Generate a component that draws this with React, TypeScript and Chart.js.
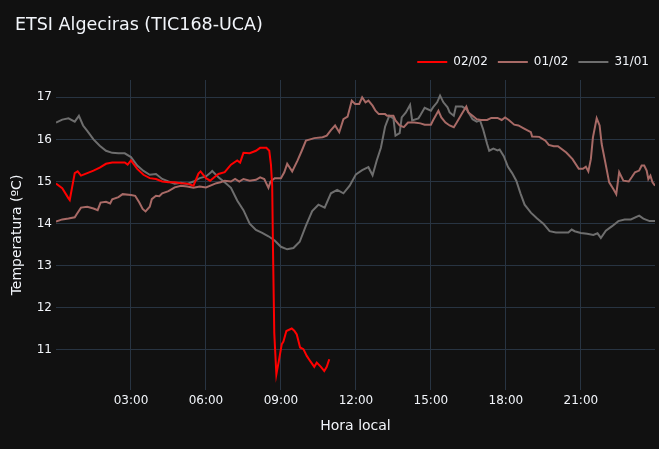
import { useEffect, useRef } from 'react';
import { Chart } from 'chart.js/auto';

// 02/02 (en curso)
const redTimes = [
  '00:00', '00:15', '00:30', '00:33', '00:45', '00:52', '01:00', '01:15', '01:30', '01:45',
  '02:00', '02:15', '02:30', '02:45', '02:52', '03:00', '03:15', '03:30', '03:45', '04:00',
  '04:15', '04:30', '04:45', '05:00', '05:15', '05:30', '05:42', '05:47', '06:00', '06:10',
  '06:20', '06:30', '06:45', '07:00', '07:15', '07:22', '07:30', '07:45', '08:00', '08:10',
  '08:25', '08:32', '08:36', '08:39', '08:41', '08:44', '08:49', '08:55', '09:02', '09:06',
  '09:13', '09:26', '09:32', '09:38', '09:46', '09:54', '10:02', '10:10', '10:20', '10:26',
  '10:36', '10:44', '10:50', '10:56',
];
const redTemps = [
  14.95, 14.84, 14.6, 14.56, 15.2, 15.24, 15.14, 15.2, 15.26, 15.33,
  15.42, 15.45, 15.45, 15.45, 15.4, 15.5, 15.3, 15.16, 15.08, 15.06,
  15.0, 14.98, 14.98, 14.96, 14.95, 14.9, 15.19, 15.24, 15.08, 15.02,
  15.1, 15.18, 15.22, 15.4, 15.5, 15.45, 15.68, 15.67, 15.73, 15.8,
  15.8, 15.73, 15.4, 14.9, 13.35, 11.4, 10.42, 10.74, 11.14, 11.2,
  11.45, 11.51, 11.46, 11.37, 11.06, 11.02, 10.86, 10.74, 10.6, 10.7,
  10.6, 10.5, 10.6, 10.78,
];

// 01/02
const roseTimes = [
  '00:00', '00:15', '00:30', '00:45', '00:50', '01:00', '01:15', '01:30', '01:40', '01:47',
  '02:00', '02:10', '02:15', '02:30', '02:40', '03:00', '03:10', '03:20', '03:28', '03:35',
  '03:45', '03:50', '04:00', '04:08', '04:15', '04:30', '04:45', '05:00', '05:15', '05:30',
  '05:45', '06:00', '06:15', '06:25', '06:35', '06:45', '07:00', '07:10', '07:20', '07:30',
  '07:45', '08:00', '08:10', '08:20', '08:30', '08:35', '08:45', '09:00', '09:08', '09:15',
  '09:27', '09:40', '09:50', '10:00', '10:10', '10:20', '10:40', '10:50', '11:00', '11:10',
  '11:20', '11:30', '11:40', '11:50', '11:58', '12:08', '12:15', '12:23', '12:30', '12:40',
  '12:47', '12:55', '13:10', '13:15', '13:30', '13:35', '13:45', '13:55', '14:05', '14:20',
  '14:35', '14:45', '15:00', '15:05', '15:18', '15:25', '15:35', '15:45', '15:55', '16:02',
  '16:15', '16:25', '16:30', '16:40', '16:50', '17:00', '17:15', '17:25', '17:40', '17:50',
  '17:58', '18:07', '18:20', '18:30', '18:45', '19:00', '19:03', '19:20', '19:35', '19:43',
  '19:55', '20:05', '20:25', '20:40', '20:55', '21:05', '21:12', '21:18', '21:24', '21:29',
  '21:38', '21:45', '21:50', '21:58', '22:08', '22:18', '22:25', '22:32', '22:42', '22:55',
  '23:02', '23:10', '23:20', '23:26', '23:32', '23:38', '23:42', '23:47', '23:52', '23:58',
];
const roseTemps = [
  14.05, 14.1, 14.12, 14.15, 14.23, 14.38, 14.4, 14.36, 14.32, 14.5,
  14.52, 14.48, 14.58, 14.63, 14.7, 14.68, 14.66, 14.5, 14.35, 14.29,
  14.4, 14.58, 14.66, 14.65, 14.72, 14.77, 14.86, 14.9, 14.88, 14.85,
  14.88, 14.86, 14.92, 14.96, 14.98, 15.02, 15.0, 15.06, 15.0, 15.06,
  15.02, 15.04, 15.1, 15.06, 14.85, 15.0, 15.08, 15.08, 15.22, 15.42,
  15.24, 15.5, 15.73, 15.97, 16.0, 16.03, 16.05, 16.09, 16.22, 16.33,
  16.17, 16.48, 16.54, 16.92, 16.84, 16.84, 17.0, 16.88, 16.92, 16.8,
  16.68, 16.6, 16.6, 16.56, 16.56, 16.45, 16.33, 16.29, 16.4, 16.4,
  16.38, 16.35, 16.35, 16.45, 16.68, 16.52, 16.4, 16.33, 16.29, 16.4,
  16.62, 16.78, 16.64, 16.56, 16.48, 16.46, 16.46, 16.51, 16.51, 16.46,
  16.52, 16.46, 16.35, 16.33, 16.25, 16.17, 16.07, 16.06, 15.97, 15.87,
  15.84, 15.84, 15.69, 15.53, 15.3, 15.3, 15.35, 15.24, 15.53, 16.05,
  16.5, 16.33, 15.89, 15.49, 14.98, 14.82, 14.7, 15.22, 15.02, 15.0,
  15.1, 15.22, 15.26, 15.38, 15.38, 15.26, 15.06, 15.14, 14.98, 14.9,
];

// 31/01
const grayTimes = [
  '00:00', '00:15', '00:30', '00:45', '00:55', '01:05', '01:15', '01:30', '01:45', '02:00',
  '02:15', '02:30', '02:45', '03:00', '03:15', '03:30', '03:45', '04:00', '04:15', '04:30',
  '04:45', '05:00', '05:15', '05:30', '05:45', '06:00', '06:10', '06:15', '06:30', '06:45',
  '07:00', '07:15', '07:30', '07:45', '08:00', '08:15', '08:30', '08:45', '09:00', '09:15',
  '09:30', '09:45', '10:00', '10:15', '10:30', '10:45', '11:00', '11:15', '11:30', '11:45',
  '12:00', '12:15', '12:30', '12:40', '12:50', '13:00', '13:10', '13:20', '13:30', '13:35',
  '13:45', '13:50', '14:00', '14:10', '14:15', '14:30', '14:35', '14:45', '15:00', '15:05',
  '15:15', '15:22', '15:30', '15:40', '15:45', '15:55', '16:00', '16:15', '16:25', '16:35',
  '16:40', '16:50', '16:58', '17:05', '17:15', '17:20', '17:30', '17:40', '17:45', '17:55',
  '18:05', '18:15', '18:25', '18:35', '18:45', '19:00', '19:15', '19:30', '19:45', '20:00',
  '20:15', '20:30', '20:38', '20:45', '21:00', '21:15', '21:30', '21:40', '21:48', '22:00',
  '22:15', '22:30', '22:45', '23:00', '23:20', '23:30', '23:45', '23:58',
];
const grayTemps = [
  16.4, 16.47, 16.5, 16.42, 16.56, 16.33, 16.2, 16.0, 15.85, 15.73,
  15.68, 15.67, 15.67, 15.58, 15.38, 15.25, 15.16, 15.18, 15.06, 15.0,
  14.95, 14.97, 14.94, 15.0, 15.08, 15.12, 15.2, 15.25, 15.1, 14.98,
  14.85, 14.55, 14.32, 14.0, 13.85, 13.78, 13.7, 13.6, 13.45, 13.39,
  13.42, 13.57, 13.95, 14.3, 14.45, 14.38, 14.72, 14.8, 14.72, 14.9,
  15.17, 15.27, 15.34, 15.15, 15.5, 15.8, 16.3, 16.56, 16.5, 16.09,
  16.15, 16.52, 16.64, 16.82, 16.45, 16.5, 16.58, 16.75, 16.68, 16.76,
  16.88, 17.04, 16.88, 16.76, 16.64, 16.56, 16.78, 16.78, 16.72, 16.56,
  16.48, 16.42, 16.45, 16.25, 15.89, 15.73, 15.78, 15.74, 15.76, 15.6,
  15.35, 15.2, 15.02, 14.72, 14.45, 14.26, 14.12, 14.0, 13.82, 13.79,
  13.79, 13.79, 13.86, 13.82, 13.78, 13.76, 13.73, 13.77, 13.66, 13.83,
  13.94, 14.06, 14.1, 14.1, 14.19, 14.12, 14.06, 14.06,
];

const seriesLabels = ['02/02', '01/02', '31/01'];
const seriesColors = ['#ff0000', '#a86a66', '#6e6e6e'];
const xTickLabels = ['03:00', '06:00', '09:00', '12:00', '15:00', '18:00', '21:00'];
const yTickValues = [11, 12, 13, 14, 15, 16, 17];

const toMinutes = (t: string) => {
  const [h, m] = t.split(':').map(Number);
  return h * 60 + m;
};
const toPoints = (times: string[], temps: number[]) =>
  times.map((t, i) => ({ x: toMinutes(t), y: temps[i] }));
const fmtTime = (v: number) =>
  `${String(Math.floor(v / 60)).padStart(2, '0')}:${String(v % 60).padStart(2, '0')}`;

const FONT = "'DejaVu Sans', Verdana, sans-serif";
const TEXT = '#f2f5fa';
const GRID = '#283442';

// small gap under the legend, and push it a few px towards the right edge
const legendTweak = {
  id: 'legendTweak',
  beforeInit(chart: any) {
    const legend = chart.legend;
    if (!legend) return;
    const fit = legend.fit;
    legend.fit = function () {
      fit.call(this);
      this.height += 2;
    };
  },
  afterLayout(chart: any) {
    const legend = chart.legend;
    if (!legend) return;
    legend.left += 4;
    legend.right += 4;
  },
};

export default function App() {
  const canvasRef = useRef<HTMLCanvasElement>(null);
  const chartRef = useRef<Chart | null>(null);

  useEffect(() => {
    if (!canvasRef.current) return;

    const series = [
      toPoints(redTimes, redTemps),
      toPoints(roseTimes, roseTemps),
      toPoints(grayTimes, grayTemps),
    ];

    chartRef.current = new Chart(canvasRef.current, {
      type: 'line',
      data: {
        datasets: series.map((data, i) => ({
          label: seriesLabels[i],
          data,
          borderColor: seriesColors[i],
          backgroundColor: seriesColors[i],
          borderWidth: 2,
          pointRadius: 0,
          tension: 0,
          fill: false,
        })),
      },
      options: {
        responsive: true,
        maintainAspectRatio: false,
        animation: false,
        layout: { padding: { top: 46, right: 4, left: 0, bottom: 0 } },
        plugins: {
          title: { display: false },
          tooltip: { enabled: false },
          legend: {
            position: 'top',
            align: 'end',
            labels: {
              color: TEXT,
              font: { family: FONT, size: 12 },
              usePointStyle: true,
              pointStyle: 'line',
              pointStyleWidth: 30,
              padding: 10,
            },
          },
        },
        scales: {
          x: {
            type: 'linear',
            min: 0,
            max: 1438,
            afterFit: (s: any) => { s.height = 59; },
            afterBuildTicks: (s: any) => {
              s.ticks = xTickLabels.map((l) => ({ value: toMinutes(l) }));
            },
            ticks: {
              color: TEXT,
              font: { family: FONT, size: 12 },
              padding: 4,
              maxRotation: 0,
              autoSkip: false,
              callback: (v: any) => fmtTime(Number(v)),
            },
            grid: { color: GRID, drawTicks: false },
            border: { display: false },
            title: {
              display: true,
              text: 'Hora local',
              color: TEXT,
              font: { family: FONT, size: 14 },
              padding: { top: 0, bottom: 14 },
            },
          },
          y: {
            min: 10.05,
            max: 17.41,
            afterFit: (s: any) => { s.width = 56; },
            afterBuildTicks: (s: any) => {
              s.ticks = yTickValues.map((v) => ({ value: v }));
            },
            ticks: {
              color: TEXT,
              font: { family: FONT, size: 12 },
              padding: 4,
            },
            grid: { color: GRID, drawTicks: false },
            border: { display: false },
            title: {
              display: true,
              text: 'Temperatura (ºC)',
              color: TEXT,
              font: { family: FONT, size: 14 },
              padding: { top: 9, bottom: 0 },
            },
          },
        },
      },
      plugins: [legendTweak],
    });

    return () => {
      chartRef.current?.destroy();
      chartRef.current = null;
    };
  }, []);

  return (
    <div
      style={{
        position: 'absolute',
        left: 0,
        top: 0,
        width: 659,
        height: 449,
        background: '#111111',
      }}
    >
      <div
        style={{
          position: 'absolute',
          left: 15,
          top: 13,
          lineHeight: '22px',
          fontFamily: FONT,
          fontSize: 17.5,
          color: TEXT,
          whiteSpace: 'nowrap',
        }}
      >
        ETSI Algeciras (TIC168-UCA)
      </div>
      <canvas ref={canvasRef} />
    </div>
  );
}
